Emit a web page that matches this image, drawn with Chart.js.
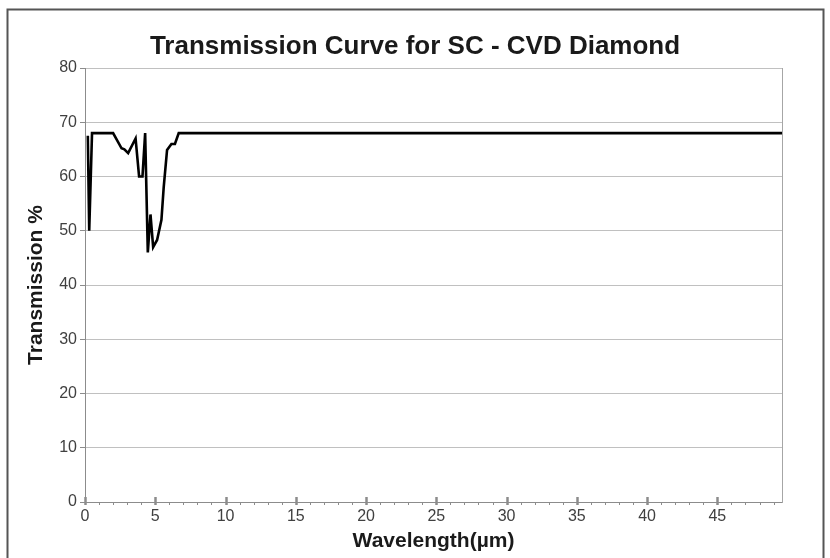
<!DOCTYPE html>
<html>
<head>
<meta charset="utf-8">
<title>Transmission Curve for SC - CVD Diamond</title>
<script src="https://cdn.jsdelivr.net/npm/chart.js@4/dist/chart.umd.min.js"></script>
<style>
  html, body { margin: 0; padding: 0; background: #fff; }
  #wrap { width: 830px; height: 558px; }
</style>
</head>
<body>
<div id="wrap"><canvas id="chart" width="830" height="558"></canvas></div>
<script>
// Wavelength (µm) and transmission (%)
const wavelength = [0.2, 0.3, 0.5, 2.0, 2.6, 2.8, 3.07, 3.6, 3.85, 4.09, 4.28, 4.47, 4.66, 4.85, 5.13, 5.44, 5.6, 5.84, 6.15, 6.4, 6.67, 49.6];
const transmission = [67.5, 50, 68, 68, 65.2, 65, 64.3, 67, 60, 60, 68, 46, 53, 47, 48.3, 52, 58, 64.9, 66, 66, 68, 68];

const yTicks = [0, 10, 20, 30, 40, 50, 60, 70, 80];
const xLabels = [0, 5, 10, 15, 20, 25, 30, 35, 40, 45];

const points = wavelength.map((w, i) => ({ x: w, y: transmission[i] }));

const FONT = '"Liberation Sans", Arial, sans-serif';

// frame around the whole chart + minor/major x ticks
const decorations = {
    id: 'decorations',
    beforeDraw(chart) {
        const ctx = chart.ctx;
        ctx.save();
        ctx.fillStyle = '#fff';
        ctx.fillRect(0, 0, chart.width, chart.height);
        ctx.restore();
    },
    afterDraw(chart) {
        const ctx = chart.ctx;
        const xs = chart.scales.x;
        const bottom = chart.chartArea.bottom;
        ctx.save();
        ctx.strokeStyle = '#8c8c8c';
        for (let v = 0; v <= 49; v++) {
            const px = Math.round(xs.getPixelForValue(v)) + 0.5;
            const major = v % 5 === 0;
            ctx.lineWidth = major ? 2.5 : 1;
            ctx.beginPath();
            ctx.moveTo(px, major ? bottom - 5 : bottom);
            ctx.lineTo(px, bottom + 3);
            ctx.stroke();
        }
        ctx.strokeStyle = '#555';
        ctx.lineWidth = 2;
        ctx.strokeRect(7.5, 9.5, 816, 600);
        ctx.restore();
    }
};

new Chart(document.getElementById('chart'), {
    type: 'line',
    data: {
        datasets: [{
            data: points,
            borderColor: '#000',
            borderWidth: 2.6,
            pointRadius: 0,
            tension: 0,
            fill: false
        }]
    },
    options: {
        responsive: false,
        animation: false,
        layout: { padding: 0 },
        plugins: {
            legend: { display: false },
            tooltip: { enabled: false },
            title: {
                display: true,
                text: 'Transmission Curve for SC - CVD Diamond',
                color: '#1a1a1a',
                font: { family: FONT, size: 26, weight: 'bold', lineHeight: 1.2 },
                padding: { top: 31.4, bottom: 5.4 }
            }
        },
        scales: {
            x: {
                type: 'linear',
                min: 0,
                max: 49.6,
                afterFit(scale) { scale.height = 56; },
                afterBuildTicks(scale) {
                    scale.ticks = xLabels.map(v => ({ value: v }));
                },
                border: { display: true, color: '#8c8c8c', width: 1 },
                grid: { display: false, drawTicks: false },
                ticks: {
                    padding: 5,
                    color: '#404040',
                    maxRotation: 0,
                    font: { family: FONT, size: 16 }
                },
                title: {
                    display: true,
                    text: 'Wavelength(µm)',
                    color: '#1a1a1a',
                    font: { family: FONT, size: 21, weight: 'bold', lineHeight: 1.2 },
                    padding: { top: 0, bottom: 4 }
                }
            },
            y: {
                min: 0,
                max: 80,
                afterFit(scale) { scale.width = 85; },
                afterBuildTicks(scale) {
                    scale.ticks = yTicks.map(v => ({ value: v }));
                },
                border: { display: true, color: '#8c8c8c', width: 1 },
                grid: {
                    color: '#c0c0c0',
                    lineWidth: 1,
                    tickLength: 5,
                    tickColor: '#8c8c8c'
                },
                ticks: {
                    padding: 3,
                    color: '#404040',
                    font: { family: FONT, size: 16 }
                },
                title: {
                    display: true,
                    text: 'Transmission %',
                    color: '#1a1a1a',
                    font: { family: FONT, size: 21, weight: 'bold', lineHeight: 1.2 },
                    padding: { top: 24, bottom: 0 }
                }
            },
            // empty right-hand axis: keeps the plot's right edge and its frame line
            yRight: {
                position: 'right',
                min: 0,
                max: 80,
                afterFit(scale) { scale.width = 48; },
                border: { display: true, color: '#a6a6a6', width: 1 },
                grid: { display: false, drawTicks: false },
                ticks: { display: false }
            }
        }
    },
    plugins: [decorations]
});
</script>
</body>
</html>
